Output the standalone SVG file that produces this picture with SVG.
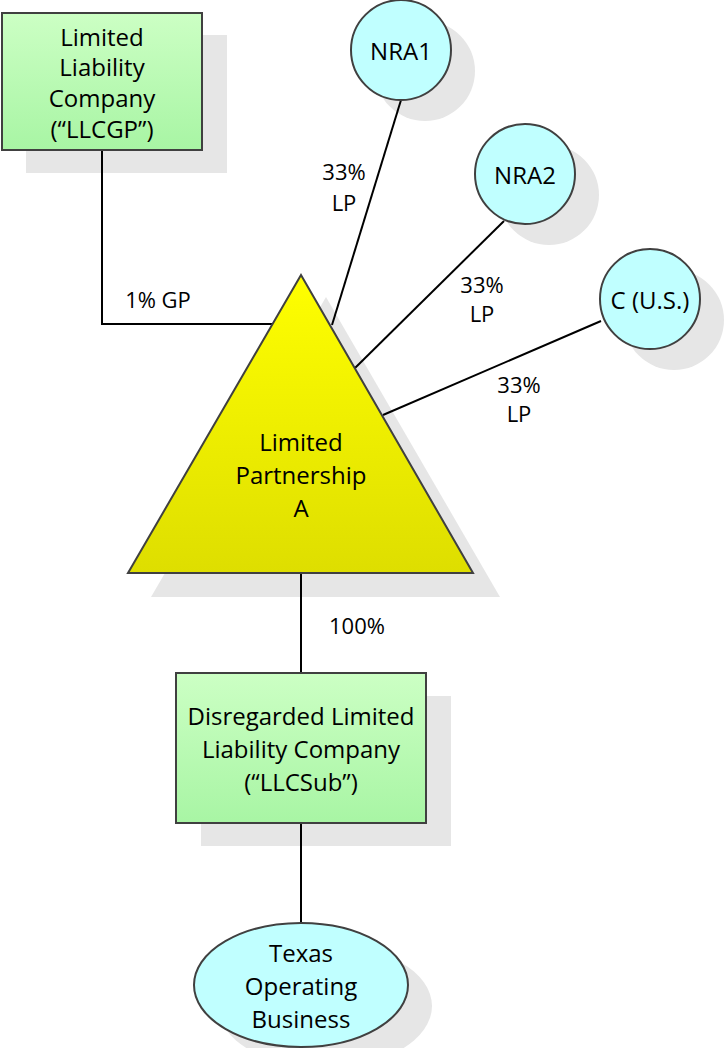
<svg xmlns="http://www.w3.org/2000/svg" width="725" height="1048" viewBox="0 0 725 1048">
<defs>
<linearGradient id="gGreen" x1="0" y1="0" x2="0" y2="1"><stop offset="0" stop-color="#ccffc4"/><stop offset="1" stop-color="#a8f5a4"/></linearGradient>
<linearGradient id="gYellow" x1="0" y1="0" x2="0" y2="1"><stop offset="0" stop-color="#ffff00"/><stop offset="1" stop-color="#dede00"/></linearGradient>
</defs>
<style>
.shadow{fill:#e6e6e6;stroke:none}
.box{fill:url(#gGreen);stroke:#404040;stroke-width:2}
.tri{fill:url(#gYellow);stroke:#404040;stroke-width:2;stroke-linejoin:miter}
.circ{fill:#c0ffff;stroke:#404040;stroke-width:2}
.t{font-family:"Open Sans","Liberation Sans",sans-serif;font-size:24px;fill:#000;text-anchor:middle;dominant-baseline:central}
.lbl{font-family:"Open Sans","Liberation Sans",sans-serif;font-size:22px;fill:#000;text-anchor:middle;dominant-baseline:central}
.conn{stroke:#000;stroke-width:2;fill:none}
</style>
<g id="shadows">
<rect class="shadow" x="26" y="35" width="201" height="138"/>
<circle class="shadow" cx="425" cy="71" r="50"/>
<circle class="shadow" cx="549" cy="195" r="50"/>
<circle class="shadow" cx="674" cy="320" r="50"/>
<polygon class="shadow" points="326,297 151,597 500,597"/>
<rect class="shadow" x="201" y="696" width="250" height="150"/>
<ellipse class="shadow" cx="325" cy="1006" rx="107" ry="62"/>
</g>
<g id="connectors">
<polyline class="conn" points="102,150 102,324 274,324"/>
<line class="conn" x1="401" y1="100" x2="332" y2="325"/>
<line class="conn" x1="504" y1="221" x2="355" y2="368"/>
<line class="conn" x1="601" y1="321" x2="383" y2="415"/>
<line class="conn" x1="301" y1="573" x2="301" y2="673"/>
<line class="conn" x1="301" y1="823" x2="301" y2="923"/>
<text class="lbl" x="158" y="299">1% GP</text>
<text class="lbl" x="344" y="171">33%</text>
<text class="lbl" x="344" y="202">LP</text>
<text class="lbl" x="482" y="284">33%</text>
<text class="lbl" x="482" y="313">LP</text>
<text class="lbl" x="519" y="384">33%</text>
<text class="lbl" x="519" y="413">LP</text>
<text class="lbl" x="357" y="625">100%</text>
</g>
<g id="llcgp">
<rect class="box" x="2" y="13" width="200" height="137"/>
<text class="t" x="102" y="36">Limited</text>
<text class="t" x="102" y="66">Liability</text>
<text class="t" x="102" y="97">Company</text>
<text class="t" x="102" y="128">(“LLCGP”)</text>
</g>
<g id="nra1">
<circle class="circ" cx="401" cy="50" r="50"/>
<text class="t" x="401" y="50">NRA1</text>
</g>
<g id="nra2">
<circle class="circ" cx="525" cy="174" r="50"/>
<text class="t" x="525" y="174">NRA2</text>
</g>
<g id="cus">
<circle class="circ" cx="650" cy="299" r="50"/>
<text class="t" x="650" y="299">C (U.S.)</text>
</g>
<g id="lpa">
<polygon class="tri" points="301,275 128,573 473,573"/>
<text class="t" x="301" y="441">Limited</text>
<text class="t" x="301" y="474">Partnership</text>
<text class="t" x="301" y="507">A</text>
</g>
<g id="llcsub">
<rect class="box" x="176" y="673" width="250" height="150"/>
<text class="t" x="301" y="715">Disregarded Limited</text>
<text class="t" x="301" y="748">Liability Company</text>
<text class="t" x="301" y="781">(“LLCSub”)</text>
</g>
<g id="texas">
<ellipse class="circ" cx="301" cy="985" rx="107" ry="62"/>
<text class="t" x="301" y="952">Texas</text>
<text class="t" x="301" y="985">Operating</text>
<text class="t" x="301" y="1018">Business</text>
</g>
</svg>
